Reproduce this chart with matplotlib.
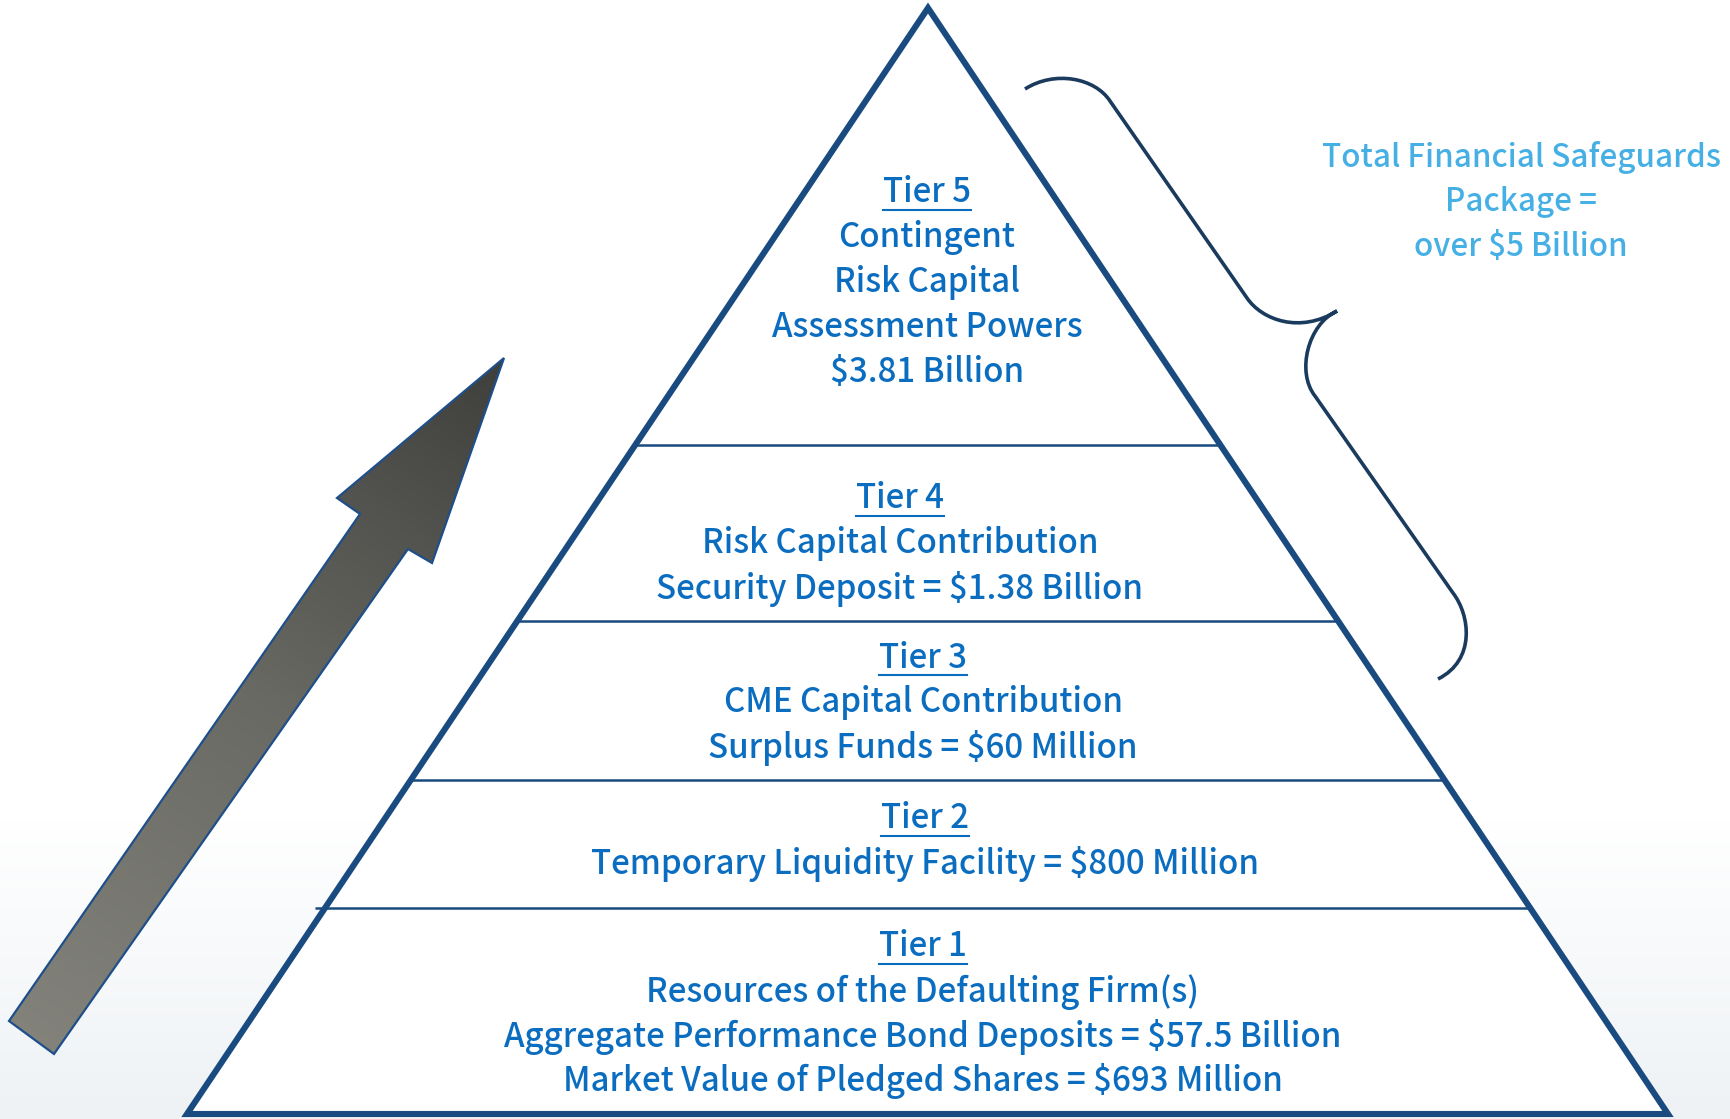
import matplotlib
matplotlib.use("Agg")
import matplotlib.pyplot as plt
import numpy as np
from matplotlib.colors import LinearSegmentedColormap
from matplotlib.patches import PathPatch, Polygon
from matplotlib.path import Path

W, H = 1730, 1119
plt.rcParams["font.family"] = ["Noto Sans CJK JP", "DejaVu Sans"]

# tiers, bottom of the pyramid first
tier_titles = ["Tier 1", "Tier 2", "Tier 3", "Tier 4", "Tier 5"]
tier_lines = [
    ["Resources of the Defaulting Firm(s)",
     "Aggregate Performance Bond Deposits = $57.5 Billion",
     "Market Value of Pledged Shares = $693 Million"],
    ["Temporary Liquidity Facility = $800 Million"],
    ["CME Capital Contribution",
     "Surplus Funds = $60 Million"],
    ["Risk Capital Contribution",
     "Security Deposit = $1.38 Billion"],
    ["Contingent",
     "Risk Capital",
     "Assessment Powers",
     "$3.81 Billion"],
]
total_label = ["Total Financial Safeguards", "Package =", "over $5 Billion"]

# layout (pixel space, y down)
APEX = (928, 8)
BASE_L = (187, 1114)
BASE_R = (1668, 1114)
DIVIDERS = [908, 780, 621, 445]
TEXT_X = [923, 925, 923, 900, 927]
TEXT_Y = [947, 819, 658, 499, 193]
LINE_STEP = 44.8
FONT_SIZE = 23.8
SIDE_FONT_SIZE = 22.6

DARK_BLUE = "#194a80"
TEXT_BLUE = "#0b6dbf"
LIGHT_BLUE = "#46b0e5"
BRACE = "#1b3b5e"


def edge_x(y, side):
    base = BASE_L if side == "left" else BASE_R
    t = (y - APEX[1]) / (base[1] - APEX[1])
    return APEX[0] + t * (base[0] - APEX[0])


def esc(s):
    return s.replace("$", r"\$")


def draw_background(ax):
    grad = np.ones((H, 1))
    yy = np.arange(H)
    fade = np.clip((yy - 820) / (H - 820), 0, 1)
    grad[:, 0] = fade
    cmap = LinearSegmentedColormap.from_list("bg", ["#ffffff", "#eef2f5"])
    ax.imshow(grad, extent=(0, W, H, 0), cmap=cmap, aspect="auto", zorder=0,
              vmin=0, vmax=1)


def draw_arrow(ax):
    pts = np.array([(9, 1021), (360, 514), (337, 498), (504, 358),
                    (432, 563), (408, 549), (54, 1054)])
    poly = Polygon(pts, closed=True, facecolor="none", edgecolor="#1e4f8a",
                   linewidth=1.6, zorder=3)
    ax.add_patch(poly)
    xx, yy = np.meshgrid(np.arange(0, 520), np.arange(340, 1070))
    d = np.array([504 - 30, 358 - 1040], dtype=float)
    d /= np.linalg.norm(d)
    t = (xx - 30) * d[0] + (yy - 1040) * d[1]
    t = (t - t.min()) / (t.max() - t.min())
    cmap = LinearSegmentedColormap.from_list("arr", ["#85857e", "#6a6a64", "#3c3c3a"])
    im = ax.imshow(t, extent=(0, 520, 1070, 340), cmap=cmap, aspect="auto", zorder=2)
    clip = Polygon(pts, closed=True, transform=ax.transData, facecolor="none",
                   edgecolor="none")
    ax.add_patch(clip)
    im.set_clip_path(clip)


def draw_pyramid(ax):
    tri = Polygon([APEX, BASE_R, BASE_L], closed=True, facecolor="white",
                  edgecolor=DARK_BLUE, linewidth=4.4, joinstyle="miter", zorder=4)
    ax.add_patch(tri)
    for i, y in enumerate(DIVIDERS):
        x0 = edge_x(y, "left") - (10 if i == 0 else 0)
        x1 = edge_x(y, "right")
        ax.plot([x0, x1], [y, y], color=DARK_BLUE, linewidth=1.8, zorder=5,
                solid_capstyle="butt")


def draw_brace(ax):
    verts = [
        (1025, 89), (1055, 70), (1095, 78), (1110, 101),
        (1247, 298),
        (1262, 320), (1300, 334), (1337, 311),
        (1308, 324), (1296, 372), (1315, 396),
        (1453, 593),
        (1470, 615), (1476, 660), (1438, 679),
    ]
    codes = [Path.MOVETO, Path.CURVE4, Path.CURVE4, Path.CURVE4,
             Path.LINETO,
             Path.CURVE4, Path.CURVE4, Path.CURVE4,
             Path.CURVE4, Path.CURVE4, Path.CURVE4,
             Path.LINETO,
             Path.CURVE4, Path.CURVE4, Path.CURVE4]
    ax.add_patch(PathPatch(Path(verts, codes), facecolor="none", edgecolor=BRACE,
                           linewidth=2.6, zorder=3))


def main():
    fig = plt.figure(figsize=(W / 100, H / 100), dpi=100)
    ax = fig.add_axes([0, 0, 1, 1])
    ax.set_xlim(0, W)
    ax.set_ylim(H, 0)
    ax.axis("off")

    draw_background(ax)
    draw_arrow(ax)
    draw_pyramid(ax)
    draw_brace(ax)

    title_texts = []
    for title, lines, x, y in zip(tier_titles, tier_lines, TEXT_X, TEXT_Y):
        t = ax.text(x, y, title, color=TEXT_BLUE, fontsize=FONT_SIZE,
                    fontweight="medium", ha="center", va="center", zorder=6)
        title_texts.append((t, y))
        for k, line in enumerate(lines, start=1):
            ax.text(x, y + k * LINE_STEP, esc(line), color=TEXT_BLUE,
                    fontsize=FONT_SIZE, fontweight="medium",
                    ha="center", va="center", zorder=6)

    for k, line in enumerate(total_label):
        ax.text(1521, 157 + k * LINE_STEP, esc(line), color=LIGHT_BLUE,
                fontsize=SIDE_FONT_SIZE, fontweight="medium",
                ha="center", va="center", zorder=6)

    # underline the tier names
    fig.canvas.draw()
    inv = ax.transData.inverted()
    for t, y in title_texts:
        bb = t.get_window_extent()
        (x0, _), (x1, _) = inv.transform([(bb.x0, bb.y0), (bb.x1, bb.y1)])
        ax.plot([x0, x1], [y + 17, y + 17], color=TEXT_BLUE, linewidth=1.5, zorder=6)

    fig.savefig("out.png", dpi=100)
    plt.close(fig)


if __name__ == "__main__":
    main()
